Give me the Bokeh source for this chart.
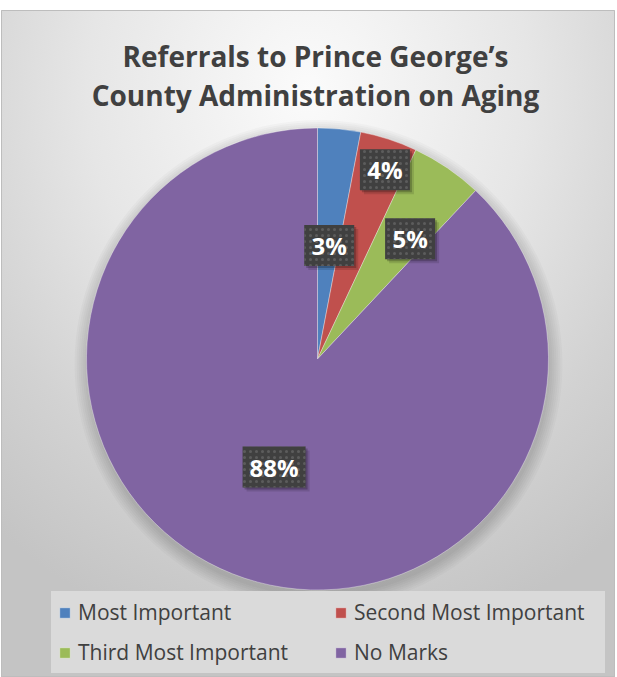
import math
from bokeh.plotting import figure
from bokeh.models import ColumnDataSource, Range1d, Legend, LegendItem
from bokeh.embed import file_html
from bokeh.resources import INLINE
from bokeh.core.properties import value

# ---- data ----
categories = ["Most Important", "Second Most Important", "Third Most Important", "No Marks"]
percents = [3, 4, 5, 88]
pct_labels = ["3%", "4%", "5%", "88%"]
colors = ["#4f81bd", "#c0504d", "#9bbb59", "#8064a2"]
title_lines = ["Referrals to Prince George\u2019s", "County Administration on Aging"]

# ---- layout (pixels; 1 data unit = 1 px) ----
W, H = 614, 667
CX, CY, R = 316, 318.5, 231
label_r = [0.494, 0.87, 0.657, 0.504]      # label distance as fraction of radius
label_shift = [0.5, 1.6, 3.4, 0.3]          # clockwise angular nudge (degrees)
FONT = "Open Sans"

total = float(sum(percents))
starts, ends, lx, ly, lw = [], [], [], [], []
cum = 0.0
for i, v in enumerate(percents):
    a0 = math.pi / 2 - 2 * math.pi * cum / total
    a1 = math.pi / 2 - 2 * math.pi * (cum + v) / total
    mid = (a0 + a1) / 2 - math.radians(label_shift[i])
    starts.append(a0)
    ends.append(a1)
    lx.append(CX + label_r[i] * R * math.cos(mid))
    ly.append(CY + label_r[i] * R * math.sin(mid))
    lw.append(24 + 13 * len(pct_labels[i]))
    cum += v

src = ColumnDataSource(dict(cat=categories, start=starts, end=ends, color=colors))
lab = ColumnDataSource(dict(x=lx, y=ly, w=lw, text=pct_labels,
                            sx1=[x + 2 for x in lx], sy1=[y - 2 for y in ly],
                            sx2=[x + 4 for x in lx], sy2=[y - 4 for y in ly]))

p = figure(width=W, height=H, x_range=Range1d(0, W), y_range=Range1d(0, H),
           output_backend="svg", toolbar_location=None, min_border=0,
           x_axis_location=None, y_axis_location=None)
p.margin = (10, 0, 0, 1)
p.grid.visible = False
p.background_fill_alpha = 0
p.border_fill_alpha = 0
p.outline_line_color = "#bdbdbd"
p.styles = {"background": "radial-gradient(ellipse 80% 85% at 50% 12%, #fbfbfb 0%, #e6e6e6 45%, #d2d2d2 75%, #c4c4c4 100%)"}

# soft shadow under pie
for k in range(7):
    p.circle(x=CX + 1, y=CY - 5, radius=R + 1 + 2 * k, fill_color="black",
             fill_alpha=0.022, line_color=None)

wedges = p.wedge(x=CX, y=CY, radius=R, start_angle="start", end_angle="end",
                 direction="clock", fill_color="color", line_color="white",
                 line_alpha=0.35, line_width=1, source=src)

# data labels
p.rect(x="sx2", y="sy2", width="w", height=41, width_units="screen", height_units="screen",
       fill_color="black", fill_alpha=0.12, line_color=None, source=lab)
p.rect(x="sx1", y="sy1", width="w", height=41, width_units="screen", height_units="screen",
       fill_color="black", fill_alpha=0.22, line_color=None, source=lab)
p.rect(x="x", y="y", width="w", height=41, width_units="screen", height_units="screen",
       fill_color="#404040", line_color=None, hatch_pattern="dot", hatch_color="#5c5c5c",
       hatch_scale=6, hatch_weight=1, source=lab)
p.text(x="x", y="y", text="text", text_font=value(FONT), text_font_style="bold",
       text_font_size="24px", text_color="white", text_align="center",
       text_baseline="middle", source=lab)

# title
p.text(x=[314, 314], y=[622, 583], text=title_lines, text_font=value(FONT),
       text_font_style="bold", text_font_size="28px", text_color="#404040",
       text_align="center", text_baseline="alphabetic")

legend = Legend(items=[LegendItem(label=c, renderers=[wedges], index=i) for i, c in enumerate(categories)],
                location=(50, 4), orientation="horizontal", ncols=2,
                label_text_font=FONT, label_text_font_size="21px", label_text_color="#404040",
                glyph_width=13, glyph_height=13, label_standoff=7, spacing=12, padding=7,
                label_width=244, label_height=26, background_fill_color="#dadada",
                background_fill_alpha=1, border_line_alpha=0, margin=0)
p.add_layout(legend, "center")

open("out.html", "w").write(file_html(p, INLINE))
